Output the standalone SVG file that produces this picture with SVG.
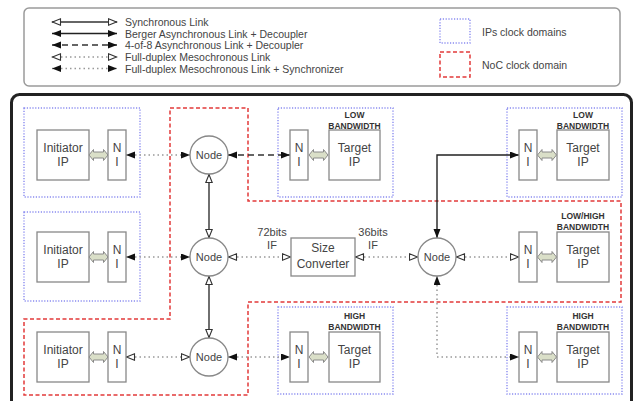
<svg xmlns="http://www.w3.org/2000/svg" width="637" height="401" viewBox="0 0 637 401">
<style>
text{font-family:"Liberation Sans",Arial,sans-serif;fill:#444}
.t{font-size:12px;text-anchor:middle}
.nd{font-size:11px;text-anchor:middle}
.bw{font-size:8.5px;font-weight:bold;text-anchor:middle;fill:#333}
.lg{font-size:10.5px}
.box{fill:#fff;stroke:#888;stroke-width:1.3}
.node{fill:#fff;stroke:#888;stroke-width:1.3}
.ipd{fill:none;stroke:#8a8cf0;stroke-width:1.4;stroke-dasharray:1.2 1.6}
.noc{fill:none;stroke:#e23a3a;stroke-width:1.5;stroke-dasharray:4 2.5}
.sync{fill:none;stroke:#333;stroke-width:1.4;marker-start:url(#ho);marker-end:url(#ho)}
.berg{fill:none;stroke:#222;stroke-width:1.4;marker-start:url(#fi);marker-end:url(#fi)}
.f48{fill:none;stroke:#333;stroke-width:1.4;stroke-dasharray:6 4;marker-start:url(#fi);marker-end:url(#fi)}
.meso{fill:none;stroke:#999;stroke-width:1.5;stroke-dasharray:1.5 3;marker-start:url(#ho);marker-end:url(#ho)}
.msyn{fill:none;stroke:#999;stroke-width:1.5;stroke-dasharray:1.5 3;marker-start:url(#fi);marker-end:url(#fi)}
.fat{fill:#dadfc8;stroke:#8a8a8a;stroke-width:1}
</style>
<defs>
<marker id="fi" markerUnits="userSpaceOnUse" markerWidth="10" markerHeight="8" refX="9" refY="3.5" orient="auto-start-reverse">
<path d="M0,0 L9,3.5 L0,7 Z" fill="#111"/>
</marker>
<marker id="ho" markerUnits="userSpaceOnUse" markerWidth="11" markerHeight="9" refX="9.5" refY="4" orient="auto-start-reverse">
<path d="M1,0.8 L9,4 L1,7.2 Z" fill="#fff" stroke="#333" stroke-width="1.1"/>
</marker>
<path id="fa" class="fat" d="M-9.5,0 L-5,-5.5 L-5,-3 L5,-3 L5,-5.5 L9.5,0 L5,5.5 L5,3 L-5,3 L-5,5.5 Z"/>
</defs>

<g id="legend">
<rect x="24" y="8" width="596" height="78" rx="5" fill="#fff" stroke="#9a9a9a" stroke-width="1.5"/>
<line x1="52" y1="22" x2="117" y2="22" class="sync"/>
<line x1="52" y1="33.5" x2="117" y2="33.5" class="berg"/>
<line x1="52" y1="45" x2="117" y2="45" class="f48"/>
<line x1="52" y1="57" x2="117" y2="57" class="meso"/>
<line x1="52" y1="68.5" x2="117" y2="68.5" class="msyn"/>
<text class="lg" x="125" y="26">Synchronous Link</text>
<text class="lg" x="125" y="37.5">Berger Asynchronous Link + Decoupler</text>
<text class="lg" x="125" y="49">4-of-8 Asynchronous Link + Decoupler</text>
<text class="lg" x="125" y="61">Full-duplex Mesochronous Link</text>
<text class="lg" x="125" y="72.5">Full-duplex Mesochronous Link + Synchronizer</text>
<rect x="440" y="19" width="30" height="24" class="ipd"/>
<rect x="440" y="52" width="30" height="25" class="noc"/>
<text class="lg" x="482" y="36">IPs clock domains</text>
<text class="lg" x="482" y="69">NoC clock domain</text>
</g>

<g id="frame">
<rect x="11.5" y="94.5" width="620" height="315" rx="8" fill="#fff" stroke="#222" stroke-width="3"/>
</g>

<g id="domains">
<rect x="24" y="108" width="116" height="89" class="ipd"/>
<rect x="24" y="212" width="116" height="89" class="ipd"/>
<rect x="278" y="108" width="115" height="89" class="ipd"/>
<rect x="507" y="108" width="115" height="89" class="ipd"/>
<rect x="278" y="307" width="115" height="87" class="ipd"/>
<rect x="507" y="307" width="115" height="87" class="ipd"/>
<path class="noc" d="M170,108 L248,108 L248,201 L621,201 L621,302 L248,302 L248,395 L24,395 L24,319 L170,319 Z"/>
</g>

<g id="connectors">
<line x1="126" y1="155" x2="190" y2="155" class="msyn"/>
<line x1="228" y1="155" x2="290" y2="155" class="f48"/>
<line x1="209" y1="174" x2="209" y2="238" class="sync"/>
<line x1="126" y1="257" x2="190" y2="257" class="msyn"/>
<line x1="228" y1="257" x2="291" y2="257" class="meso"/>
<line x1="355" y1="257" x2="418" y2="257" class="meso"/>
<line x1="456" y1="257" x2="519" y2="257" class="meso"/>
<path d="M437,238 L437,155 L519,155" class="berg"/>
<path d="M437,276 L437,357 L519,357" class="msyn"/>
<line x1="209" y1="276" x2="209" y2="338" class="sync"/>
<line x1="126" y1="357" x2="190" y2="357" class="meso"/>
<line x1="228" y1="357" x2="290" y2="357" class="msyn"/>
</g>

<g id="initiator1">
<rect x="37" y="130" width="52" height="50" class="box"/>
<text class="t" x="63" y="152">Initiator</text><text class="t" x="63" y="166">IP</text>
<use href="#fa" x="98.5" y="155"/>
</g>
<g id="ni1">
<rect x="108" y="130" width="18" height="50" class="box"/>
<text class="t" x="117" y="152">N</text><text class="t" x="117" y="166">I</text>
</g>
<g id="initiator2">
<rect x="37" y="232" width="52" height="50" class="box"/>
<text class="t" x="63" y="254">Initiator</text><text class="t" x="63" y="268">IP</text>
<use href="#fa" x="98.5" y="257"/>
</g>
<g id="ni2">
<rect x="108" y="232" width="18" height="50" class="box"/>
<text class="t" x="117" y="254">N</text><text class="t" x="117" y="268">I</text>
</g>
<g id="initiator3">
<rect x="37" y="332" width="52" height="50" class="box"/>
<text class="t" x="63" y="354">Initiator</text><text class="t" x="63" y="368">IP</text>
<use href="#fa" x="98.5" y="357"/>
</g>
<g id="ni3">
<rect x="108" y="332" width="18" height="50" class="box"/>
<text class="t" x="117" y="354">N</text><text class="t" x="117" y="368">I</text>
</g>

<g id="node1"><circle cx="209" cy="155" r="19" class="node"/><text class="nd" x="209" y="159">Node</text></g>
<g id="node2"><circle cx="209" cy="257" r="19" class="node"/><text class="nd" x="209" y="261">Node</text></g>
<g id="node3"><circle cx="437" cy="257" r="19" class="node"/><text class="nd" x="437" y="261">Node</text></g>
<g id="node4"><circle cx="209" cy="357" r="19" class="node"/><text class="nd" x="209" y="361">Node</text></g>

<g id="sizeconverter">
<rect x="291" y="238" width="64" height="38" class="box"/>
<text class="t" x="323" y="252">Size</text><text class="t" x="323" y="268">Converter</text>
<text class="nd" x="272" y="236">72bits</text><text class="nd" x="272" y="249">IF</text>
<text class="nd" x="373" y="236">36bits</text><text class="nd" x="373" y="249">IF</text>
</g>

<g id="target1">
<rect x="290" y="130" width="18" height="50" class="box"/>
<text class="t" x="299" y="152">N</text><text class="t" x="299" y="166">I</text>
<use href="#fa" x="318.5" y="155"/>
<rect x="329" y="130" width="51" height="50" class="box"/>
<text class="t" x="354.5" y="152">Target</text><text class="t" x="354.5" y="166">IP</text>
<text class="bw" x="354.5" y="117.5">LOW</text><text class="bw" x="354.5" y="128.5">BANDWIDTH</text>
</g>
<g id="target2">
<rect x="519" y="130" width="18" height="50" class="box"/>
<text class="t" x="528" y="152">N</text><text class="t" x="528" y="166">I</text>
<use href="#fa" x="547" y="155"/>
<rect x="557" y="130" width="52" height="50" class="box"/>
<text class="t" x="583" y="152">Target</text><text class="t" x="583" y="166">IP</text>
<text class="bw" x="583" y="117.5">LOW</text><text class="bw" x="583" y="128.5">BANDWIDTH</text>
</g>
<g id="target3">
<rect x="519" y="232" width="18" height="50" class="box"/>
<text class="t" x="528" y="254">N</text><text class="t" x="528" y="268">I</text>
<use href="#fa" x="547" y="257"/>
<rect x="557" y="232" width="52" height="50" class="box"/>
<text class="t" x="583" y="254">Target</text><text class="t" x="583" y="268">IP</text>
<text class="bw" x="583" y="218.5">LOW/HIGH</text><text class="bw" x="583" y="230">BANDWIDTH</text>
</g>
<g id="target4">
<rect x="290" y="332" width="18" height="50" class="box"/>
<text class="t" x="299" y="354">N</text><text class="t" x="299" y="368">I</text>
<use href="#fa" x="318.5" y="357"/>
<rect x="329" y="332" width="51" height="50" class="box"/>
<text class="t" x="354.5" y="354">Target</text><text class="t" x="354.5" y="368">IP</text>
<text class="bw" x="354.5" y="318.5">HIGH</text><text class="bw" x="354.5" y="330">BANDWIDTH</text>
</g>
<g id="target5">
<rect x="519" y="332" width="18" height="50" class="box"/>
<text class="t" x="528" y="354">N</text><text class="t" x="528" y="368">I</text>
<use href="#fa" x="547" y="357"/>
<rect x="557" y="332" width="52" height="50" class="box"/>
<text class="t" x="583" y="354">Target</text><text class="t" x="583" y="368">IP</text>
<text class="bw" x="583" y="318.5">HIGH</text><text class="bw" x="583" y="330">BANDWIDTH</text>
</g>
</svg>
